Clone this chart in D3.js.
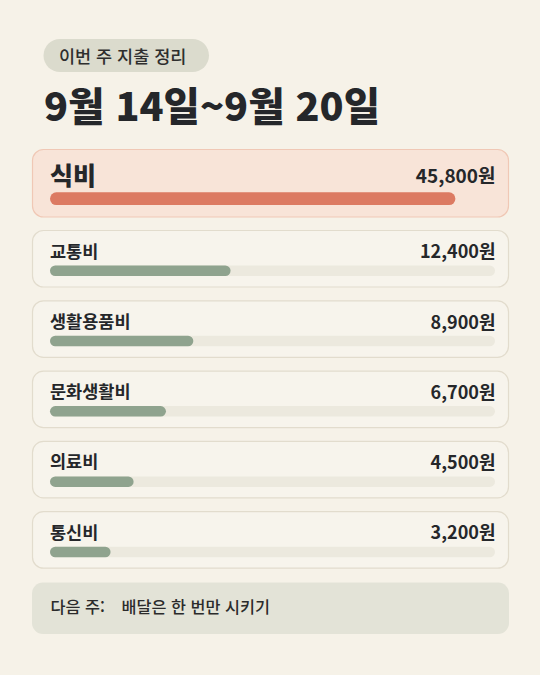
<!DOCTYPE html>
<html lang="ko">
<head>
<meta charset="utf-8">
<script src="https://cdn.jsdelivr.net/npm/d3@7"></script>
<style>
  html, body { margin: 0; padding: 0; background: #f6f2e8; }
  svg { display: block; }
  text { font-family: "Noto Sans CJK KR", "Noto Sans", sans-serif; }
</style>
</head>
<body>
<div id="chart"></div>
<script>
// ---- data ----
const badge = "이번 주 지출 정리";
const title = "9월 14일~9월 20일";
const categories = ["식비", "교통비", "생활용품비", "문화생활비", "의료비", "통신비"];
const values = [45800, 12400, 8900, 6700, 4500, 3200];
const highlight = ["식비"];
const noteLabel = "다음 주:";
const noteText = "배달은 한 번만 시키기";
const unit = "원";

// ---- layout ----
const W = 540, H = 675;
const cardX = 32, cardW = 477;
const padL = 18, padR = 14;
const trackW = cardW - padL - padR;

const svg = d3.select("#chart").append("svg")
  .attr("width", W).attr("height", H);

svg.append("rect").attr("width", W).attr("height", H).attr("fill", "#f6f2e8");

// badge
const badgeG = svg.append("g");
badgeG.append("rect")
  .attr("x", 43.5).attr("y", 39).attr("width", 165.5).attr("height", 33)
  .attr("rx", 16.5).attr("fill", "#dbdbcd");
badgeG.append("text")
  .attr("x", 59).attr("y", 62.5)
  .attr("font-size", 17.5).attr("font-weight", 500).attr("fill", "#2e2e2e")
  .text(badge);

// title
svg.append("text")
  .attr("x", 44).attr("y", 120.5)
  .attr("font-size", 39.5).attr("font-weight", 900).attr("fill", "#25272a")
  .text(title);

// scale for bar lengths
const x = d3.scaleSqrt()
  .domain([836, d3.max(values)])
  .range([0, trackW * 0.911]);

const fmt = d3.format(",");

const data = categories.map((c, i) => ({ cat: c, val: values[i], hi: highlight.includes(c) }));

let yCursor = 149;
data.forEach((d, i) => {
  d.y = yCursor;
  d.h = d.hi ? 68.5 : 57.5;
  yCursor += d.h + (d.hi ? 12.5 : 12.8);
});

const cards = svg.selectAll("g.card").data(data).join("g")
  .attr("class", "card")
  .attr("transform", d => `translate(${cardX},${d.y})`);

cards.append("rect")
  .attr("x", 0.5).attr("y", 0.5)
  .attr("width", cardW - 1).attr("height", d => d.h - 1)
  .attr("rx", 11)
  .attr("fill", d => d.hi ? "#f8e4d8" : "#f7f4ec")
  .attr("stroke", d => d.hi ? "#f0c8b5" : "#e2dccd")
  .attr("stroke-width", 1.2);

// track
cards.filter(d => !d.hi).append("rect")
  .attr("x", padL).attr("y", 35.5)
  .attr("width", trackW).attr("height", 10.5)
  .attr("rx", 5.25).attr("fill", "#ece9de");

// bar
cards.append("rect")
  .attr("x", padL).attr("y", d => d.hi ? 43.3 : 35.5)
  .attr("width", d => Math.max(0, x(d.val)))
  .attr("height", d => d.hi ? 12.7 : 10.5)
  .attr("rx", d => d.hi ? 6.35 : 5.25)
  .attr("fill", d => d.hi ? "#dc7a62" : "#8fa38e");

// label
cards.append("text")
  .attr("x", padL).attr("y", d => d.hi ? 36 : 27.5)
  .attr("font-size", d => d.hi ? 25 : 17.5)
  .attr("font-weight", d => d.hi ? 900 : 700)
  .attr("fill", "#25272a")
  .text(d => d.cat);

// value
cards.append("text")
  .attr("x", cardW - padR + 0.5).attr("y", d => d.hi ? 33.7 : 28.3)
  .attr("text-anchor", "end")
  .attr("font-size", d => d.hi ? 19 : 18)
  .attr("font-weight", 700)
  .attr("fill", "#25272a")
  .text(d => fmt(d.val) + unit);

// note box
const note = svg.append("g");
note.append("rect")
  .attr("x", cardX).attr("y", 582.5).attr("width", cardW).attr("height", 51.5)
  .attr("rx", 11).attr("fill", "#e3e3d7");
note.append("text")
  .attr("x", 50.5).attr("y", 613)
  .attr("font-size", 16.3).attr("font-weight", 500).attr("fill", "#2b2b2b")
  .text(noteLabel);
note.append("text")
  .attr("x", 121.5).attr("y", 613)
  .attr("font-size", 16.3).attr("font-weight", 500).attr("fill", "#2b2b2b")
  .text(noteText);
</script>
</body>
</html>
